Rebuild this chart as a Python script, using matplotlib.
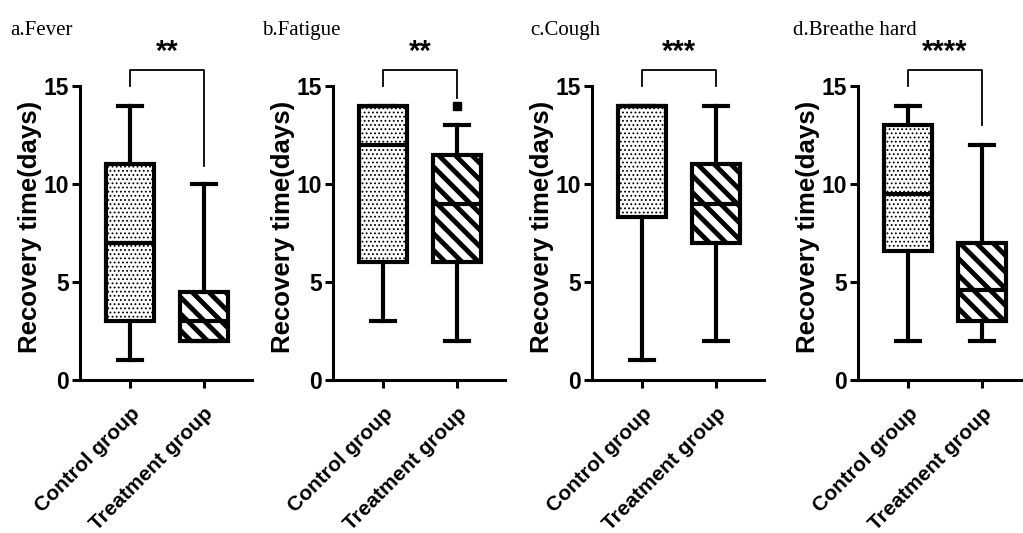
# Recovery time of four symptoms, control vs treatment group
import matplotlib
matplotlib.use('Agg')
import matplotlib.pyplot as plt

plt.rcParams['font.family'] = ['Liberation Sans', 'DejaVu Sans']
plt.rcParams['font.weight'] = 'bold'

panels = ['a.Fever', 'b.Fatigue', 'c.Cough', 'd.Breathe hard']
groups = ['Control group', 'Treatment group']
stars = ['**', '**', '***', '****']

# box statistics: [min, q1, median, q3, max]
control = [[1, 3, 7, 11, 14],
           [3, 6, 12, 14, 14],
           [1, 8.3, 14, 14, 14],
           [2, 6.6, 9.5, 13, 14]]
treatment = [[2, 2, 3, 4.5, 10],
             [2, 6, 9, 11.5, 13],
             [2, 7, 9, 11, 14],
             [2, 3, 4.6, 7, 12]]
outliers = [[], [14], [], []]
# where the bracket legs stop above each group
bracket_ends = [(15, 10.9), (15, 14.4), (15, 15), (15, 13)]

lefts = [0.078, 0.3255, 0.5787, 0.8387]
title_x = [0.010, 0.256, 0.518, 0.775]

fig = plt.figure(figsize=(10.23, 5.33), dpi=100)

for i in range(4):
    ax = fig.add_axes([lefts[i], 0.287, 0.168, 0.625])
    stats = []
    for j, s in enumerate([control[i], treatment[i]]):
        stats.append({'whislo': s[0], 'q1': s[1], 'med': s[2], 'q3': s[3],
                      'whishi': s[4], 'fliers': outliers[i] if j == 1 else []})
    b = ax.bxp(stats, positions=[1, 2], widths=0.65, patch_artist=True,
               boxprops=dict(linewidth=3, edgecolor='black', facecolor='white'),
               medianprops=dict(linewidth=3, color='black'),
               whiskerprops=dict(linewidth=3, color='black'),
               capprops=dict(linewidth=3, color='black'),
               capwidths=0.32,
               flierprops=dict(marker='s', markersize=6, markerfacecolor='black',
                               markeredgecolor='black'))
    b['boxes'][0].set_hatch('....')
    b['boxes'][1].set_hatch('\\\\')
    b['boxes'][0].set_hatch_linewidth(0.8)
    b['boxes'][1].set_hatch_linewidth(3.5)

    # significance bracket
    top = 15.8
    l_end, r_end = bracket_ends[i]
    ax.plot([1, 1, 2, 2], [l_end, top, top, r_end], color='black', lw=1.3,
            clip_on=False)
    ax.text(1.5, top + 0.25, stars[i], ha='center', va='bottom', fontsize=21,
            fontweight='bold')

    ax.set_xlim(0.32, 2.65)
    ax.set_ylim(0, 17)
    ax.spines['left'].set_bounds(0, 15)
    ax.spines['top'].set_visible(False)
    ax.spines['right'].set_visible(False)
    for sp in ['left', 'bottom']:
        ax.spines[sp].set_linewidth(2.2)
    ax.set_yticks([0, 5, 10, 15])
    ax.set_xticks([1, 2])
    ax.set_xticklabels(groups, rotation=45, ha='right', rotation_mode='anchor',
                       fontsize=15)
    ax.tick_params(width=2.2, length=6)
    ax.tick_params(axis='y', labelsize=16.5, pad=2)
    ax.tick_params(axis='x', pad=11)
    ax.set_ylabel('Recovery time(days)', fontsize=18.5, fontweight='bold')
    ax.yaxis.set_label_coords(-0.22, 0.46)

    fig.text(title_x[i], 0.935, panels[i], family='Liberation Serif',
             fontweight='normal', fontsize=15)

fig.savefig('out.png', dpi=100)
